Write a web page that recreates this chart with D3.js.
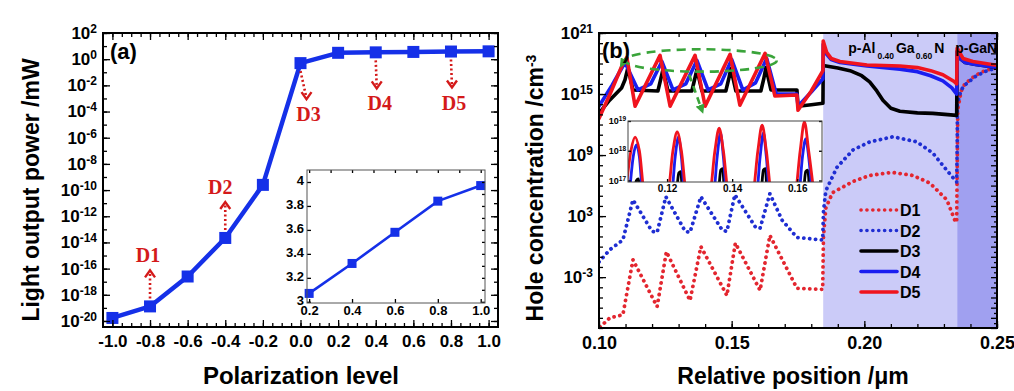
<!DOCTYPE html>
<html>
<head>
<meta charset="utf-8">
<script src="https://cdn.jsdelivr.net/npm/d3@7"></script>
<style>
    body { margin: 0; background: #fff; }
    text { font-family: "Liberation Sans", Arial, sans-serif; font-weight: bold; }
</style>
</head>
<body>
<div id="chart"></div>
<script>

// ---------- data: panel (a), light output power vs polarization level ----------
const polarLevels = [-1.0, -0.8, -0.6, -0.4, -0.2, 0.0, 0.2, 0.4, 0.6, 0.8, 1.0];
const lightPower  = [1.7e-20, 1.3e-19, 2.5e-17, 2.2e-14, 2.5e-10, 0.5, 3.07, 3.32, 3.58, 3.84, 3.97];
const polarTicks  = [-1.0, -0.8, -0.6, -0.4, -0.2, 0.0, 0.2, 0.4, 0.6, 0.8, 1.0];

// inset of (a): linear zoom on the top end
const insetLevels = [0.2, 0.4, 0.6, 0.8, 1.0];
const insetPower  = [3.07, 3.32, 3.58, 3.84, 3.97];
const insetPowerTicks = [3.0, 3.2, 3.4, 3.6, 3.8, 4.0];

// devices marked on (a)
const deviceTags   = ["D1", "D2", "D3", "D4", "D5"];
const deviceLevels = [-0.8, -0.4, 0.0, 0.4, 0.8];

// ---------- data: panel (b), hole concentration (x in um, log10 of cm^-3) ----------
const holeD1 = [
    [0.1004, -7.9], [0.1041, -7.0], [0.1090, -6.7], [0.1128, -1.3], [0.1219, -5.9], [0.1254, -0.5],
    [0.1343, -5.3], [0.1384, 0.0], [0.1482, -4.8], [0.1514, 0.35], [0.1607, -4.3], [0.1644, 1.1],
    [0.1746, -4.1], [0.1843, -4.2], [0.1846, 1.0], [0.1855, 3.8], [0.1880, 5.3], [0.1957, 6.4],
    [0.2021, 7.0], [0.2104, 7.3], [0.2183, 7.0], [0.2247, 6.25], [0.2311, 4.6], [0.2341, 2.6],
    [0.2348, 2.4], [0.2350, 8.0], [0.2352, 13.5], [0.2365, 15.3], [0.2379, 16.0], [0.2417, 16.8],
    [0.2454, 17.3], [0.2500, 17.6]
];
const holeD2 = [
    [0.1000, -1.5], [0.1041, -0.3], [0.1090, 0.65], [0.1128, 4.6], [0.1200, 1.5], [0.1219, 1.4],
    [0.1252, 4.9], [0.1325, 1.5], [0.1343, 1.4], [0.1384, 4.9], [0.1465, 1.6], [0.1482, 1.5],
    [0.1512, 5.1], [0.1590, 1.9], [0.1607, 1.8], [0.1644, 5.2], [0.1690, 2.6], [0.1746, 0.9],
    [0.1843, 0.65], [0.1846, 3.5], [0.1855, 5.5], [0.1897, 7.8], [0.1957, 9.5], [0.2021, 10.3],
    [0.2108, 10.8], [0.2198, 10.3], [0.2258, 9.2], [0.2311, 7.5], [0.2348, 6.35], [0.2350, 10.0],
    [0.2351, 14.1], [0.2365, 15.4], [0.2379, 15.9], [0.2417, 16.7], [0.2454, 17.2], [0.2500, 17.6]
];
const holeD3 = [
    [0.1000, 13.1], [0.1040, 14.4], [0.1085, 15.6], [0.1098, 16.4], [0.1109, 17.6], [0.1128, 15.4],
    [0.1222, 15.3], [0.1233, 16.5], [0.1241, 17.4], [0.1260, 15.3], [0.1350, 15.3], [0.1361, 16.5],
    [0.1369, 17.4], [0.1388, 15.3], [0.1478, 15.3], [0.1489, 16.5], [0.1497, 17.5], [0.1516, 15.3],
    [0.1610, 15.3], [0.1621, 16.5], [0.1629, 17.6], [0.1648, 15.4], [0.1746, 15.4], [0.1750, 13.8],
    [0.1800, 13.95], [0.1844, 14.1], [0.1845, 17.8], [0.1900, 17.55], [0.1946, 17.3], [0.1990, 16.8],
    [0.2020, 16.2], [0.2047, 15.3], [0.2070, 14.4], [0.2100, 13.6], [0.2134, 13.3], [0.2200, 13.15],
    [0.2258, 13.1], [0.2348, 12.9], [0.2350, 19.2], [0.2360, 18.5], [0.2380, 18.1], [0.2420, 17.9],
    [0.2500, 17.6]
];
const holeD4 = [
    [0.1000, 13.8], [0.1050, 15.9], [0.1098, 18.1], [0.1147, 15.4], [0.1195, 16.0], [0.1237, 18.2],
    [0.1279, 15.4], [0.1327, 16.0], [0.1369, 18.3], [0.1411, 15.4], [0.1459, 16.0], [0.1500, 18.4],
    [0.1542, 15.4], [0.1590, 16.1], [0.1632, 18.5], [0.1668, 15.0], [0.1746, 15.0], [0.1750, 13.8],
    [0.1800, 15.2], [0.1844, 16.5], [0.1845, 19.9], [0.1858, 18.9], [0.1875, 18.4], [0.1908, 18.1],
    [0.2010, 17.75], [0.2134, 17.45], [0.2200, 17.2], [0.2250, 16.8], [0.2296, 16.3], [0.2330, 15.6],
    [0.2348, 15.0], [0.2350, 19.1], [0.2360, 18.5], [0.2380, 18.1], [0.2420, 17.9], [0.2500, 17.6]
];
const holeD5 = [
    [0.1000, 12.6], [0.1045, 15.2], [0.1090, 18.0], [0.1105, 18.6], [0.1136, 13.8], [0.1230, 18.8],
    [0.1268, 13.8], [0.1362, 18.8], [0.1400, 13.8], [0.1494, 18.9], [0.1531, 13.9], [0.1626, 19.0],
    [0.1663, 14.8], [0.1746, 14.9], [0.1750, 13.4], [0.1800, 15.3], [0.1844, 17.3], [0.1845, 20.2],
    [0.1858, 19.1], [0.1875, 18.5], [0.1908, 18.2], [0.2010, 17.85], [0.2134, 17.75], [0.2200, 17.6],
    [0.2250, 17.3], [0.2296, 16.9], [0.2340, 16.2], [0.2348, 16.0], [0.2350, 19.5], [0.2372, 18.5],
    [0.2409, 18.2], [0.2492, 17.85], [0.2500, 17.85]
];

// inset of (b): the quantum well peaks
const wellD3 = [
    [0.1098, 16.6], [0.1106, 17.0], [0.1112, 17.05], [0.1118, 16.6],
    [0.1228, 16.6], [0.1236, 17.25], [0.1242, 17.3], [0.1248, 16.6],
    [0.1357, 16.6], [0.1365, 17.35], [0.1371, 17.4], [0.1377, 16.6],
    [0.1488, 16.6], [0.1496, 17.35], [0.1502, 17.4], [0.1508, 16.6],
    [0.1618, 16.6], [0.1626, 17.3], [0.1632, 17.35], [0.1638, 16.6]
];
const wellD4 = [
    [0.1084, 16.5], [0.1096, 17.8], [0.1106, 18.2], [0.1115, 17.8], [0.1126, 16.5],
    [0.1213, 16.5], [0.1225, 17.8], [0.1235, 18.46], [0.1244, 17.8], [0.1255, 16.5],
    [0.1342, 16.5], [0.1354, 17.8], [0.1364, 18.6], [0.1373, 17.8], [0.1384, 16.5],
    [0.1474, 16.5], [0.1486, 17.8], [0.1496, 18.6], [0.1505, 17.8], [0.1516, 16.5],
    [0.1604, 16.5], [0.1616, 17.8], [0.1626, 18.4], [0.1635, 17.8], [0.1646, 16.5]
];
const wellD5 = [
    [0.1072, 16.5], [0.1089, 18.0], [0.1102, 18.46], [0.1115, 18.0], [0.1132, 16.5],
    [0.1201, 16.5], [0.1218, 18.0], [0.1231, 18.63], [0.1244, 18.0], [0.1261, 16.5],
    [0.1330, 16.5], [0.1347, 18.0], [0.1360, 18.76], [0.1373, 18.0], [0.1390, 16.5],
    [0.1462, 16.5], [0.1479, 18.0], [0.1492, 18.86], [0.1505, 18.0], [0.1522, 16.5],
    [0.1592, 16.5], [0.1609, 18.0], [0.1622, 18.97], [0.1635, 18.0], [0.1652, 16.5]
];

// layer edges (um): EBL start, p-GaN start, end
const layerEdges = [0.1845, 0.235, 0.25];
const positionTicks = [0.10, 0.15, 0.20, 0.25];
const wellTicks = [0.12, 0.14, 0.16];

// ---------- setup ----------
const FONT = "'Liberation Sans', Arial, sans-serif";
const BLUE_A = "#1530e8";
const RED = "#f0141e", BLUE = "#1a1ef0", DOT_RED = "#e3262f", DOT_BLUE = "#1f2ed2";
const TAG_RED = "#d41a1a", GREEN = "#3aa43a";

const svg = d3.select("#chart").append("svg")
    .attr("width", 1014)
    .attr("height", 391);

svg.append("rect").attr("width", 1014).attr("height", 391).attr("fill", "#fff");

const defs = svg.append("defs");

// helpers
function tickAxis(g, axis, tx, ty, fontSize) {
    let sel = g.append("g")
        .attr("transform", `translate(${tx},${ty})`)
        .call(axis);
    sel.select(".domain").remove();
    sel.selectAll(".tick line").attr("stroke", "#000").attr("stroke-width", 1.3);
    sel.attr("font-family", FONT).attr("font-size", fontSize).attr("font-weight", "bold");
    sel.selectAll(".tick text").attr("fill", "#000");
    return sel;
}

// turn tick labels into 10^n with a raised exponent
function supLabels(sel, supSize) {
    sel.selectAll(".tick text").each(function (d) {
        let t = d3.select(this);
        t.text(null);
        t.append("tspan").text("10");
        t.append("tspan").attr("dy", "-0.5em").attr("font-size", supSize).text(Math.round(Math.log10(d)));
    });
}

function frame(g, box, color, width) {
    g.append("rect")
        .attr("x", box.left).attr("y", box.top)
        .attr("width", box.right - box.left).attr("height", box.bottom - box.top)
        .attr("fill", "none").attr("stroke", color).attr("stroke-width", width);
}

const noLabel = () => "";

/* * * * * * * * * * * * * *
*        panel (a)          *
* * * * * * * * * * * * * */
const pa = {left: 103, right: 498, top: 33, bottom: 327};
const xA = d3.scaleLinear().domain([-1.05, 1.05]).range([pa.left, pa.right]);
const yA = d3.scaleLog().domain([Math.pow(10, -20.46), 100]).range([pa.bottom, pa.top]);
const gA = svg.append("g");

const decadesA = d3.range(-20, 3).map(e => Math.pow(10, e));
const labelDecadesA = decadesA.filter((d, i) => i % 2 === 0);
const minorPolar = d3.range(-20, 21).map(i => i * 0.05);

// main curve
let pointsA = polarLevels.map((l, i) => ({level: l, power: lightPower[i]}));
let lineA = d3.line().x(d => xA(d.level)).y(d => yA(d.power));

gA.append("path").datum(pointsA)
    .attr("d", lineA)
    .attr("fill", "none")
    .attr("stroke", BLUE_A)
    .attr("stroke-width", 4.5)
    .attr("stroke-linejoin", "round");

gA.selectAll(".sqA").data(pointsA).enter().append("rect")
    .attr("class", "sqA")
    .attr("x", d => xA(d.level) - 6)
    .attr("y", d => yA(d.power) - 6)
    .attr("width", 12).attr("height", 12)
    .attr("fill", BLUE_A);

// D1..D5 arrows (up for negative polarization, down otherwise)
const tagNudge = {D1: -2, D2: -5, D3: 8, D4: 4, D5: 3};
deviceTags.forEach((tag, i) => {
    let lv = deviceLevels[i];
    let px = xA(lv);
    let py = yA(lightPower[polarLevels.indexOf(lv)]);
    let s = lv < 0 ? -1 : 1;
    let tipX = px + (tag === "D3" ? 6 : (s > 0 ? 1 : 0));
    let tipY = py + s * 36;
    gA.append("line")
        .attr("x1", px).attr("y1", py + s * 8)
        .attr("x2", tipX).attr("y2", tipY - s * 1)
        .attr("stroke", TAG_RED).attr("stroke-width", 2.6)
        .attr("stroke-dasharray", "2,2.5");
    gA.append("path")
        .attr("d", `M${tipX - 5},${tipY - s * 7} L${tipX},${tipY} L${tipX + 5},${tipY - s * 7}`)
        .attr("fill", "none").attr("stroke", TAG_RED).attr("stroke-width", 2.4);
    gA.append("text")
        .attr("x", px + tagNudge[tag])
        .attr("y", py + s * 51 + 7)
        .attr("text-anchor", "middle")
        .style("font-family", "'Liberation Serif', 'Times New Roman', serif")
        .style("font-size", "20px")
        .attr("fill", TAG_RED)
        .text(tag);
});

// axes of (a)
tickAxis(gA, d3.axisBottom(xA).tickValues(polarTicks).tickSize(-7).tickPadding(8).tickFormat(d => d.toFixed(1)), 0, pa.bottom, 17);
tickAxis(gA, d3.axisBottom(xA).tickValues(minorPolar).tickSize(-4).tickFormat(noLabel), 0, pa.bottom, 17);
tickAxis(gA, d3.axisTop(xA).tickValues(polarTicks).tickSize(-7).tickFormat(noLabel), 0, pa.top, 17);
tickAxis(gA, d3.axisTop(xA).tickValues(minorPolar).tickSize(-4).tickFormat(noLabel), 0, pa.top, 17);
let yAxisA = tickAxis(gA, d3.axisLeft(yA).tickValues(labelDecadesA).tickSize(-7).tickPadding(6), pa.left, 0, 17);
supLabels(yAxisA, 12);
tickAxis(gA, d3.axisLeft(yA).tickValues(decadesA).tickSize(-4).tickFormat(noLabel), pa.left, 0, 17);
tickAxis(gA, d3.axisRight(yA).tickValues(labelDecadesA).tickSize(-7).tickFormat(noLabel), pa.right, 0, 17);
tickAxis(gA, d3.axisRight(yA).tickValues(decadesA).tickSize(-4).tickFormat(noLabel), pa.right, 0, 17);

// inset of (a)
const ia = {left: 307, right: 485, top: 170, bottom: 303};
const xIA = d3.scaleLinear().domain([0.19, 1.02]).range([ia.left, ia.right]);
const yIA = d3.scaleLinear().domain([2.99, 4.1]).range([ia.bottom, ia.top]);

gA.append("rect")
    .attr("x", ia.left).attr("y", ia.top)
    .attr("width", ia.right - ia.left).attr("height", ia.bottom - ia.top)
    .attr("fill", "#fff");

let insetPts = insetLevels.map((l, i) => ({level: l, power: insetPower[i]}));
gA.append("path").datum(insetPts)
    .attr("d", d3.line().x(d => xIA(d.level)).y(d => yIA(d.power)))
    .attr("fill", "none").attr("stroke", BLUE_A).attr("stroke-width", 2.6);
gA.selectAll(".sqIA").data(insetPts).enter().append("rect")
    .attr("class", "sqIA")
    .attr("x", d => xIA(d.level) - 4.5)
    .attr("y", d => yIA(d.power) - 4.5)
    .attr("width", 9).attr("height", 9)
    .attr("fill", BLUE_A);

const minorInsetX = d3.range(2, 11).map(i => i * 0.1);
const minorInsetY = d3.range(30, 41).map(i => i * 0.1);
tickAxis(gA, d3.axisBottom(xIA).tickValues(insetLevels).tickSize(-4).tickPadding(3).tickFormat(d => d.toFixed(1)), 0, ia.bottom, 13);
tickAxis(gA, d3.axisTop(xIA).tickValues(minorInsetX).tickSize(-3).tickFormat(noLabel), 0, ia.top, 13);
let yAxisIA = tickAxis(gA, d3.axisLeft(yIA).tickValues(insetPowerTicks).tickSize(-4).tickPadding(3)
    .tickFormat(d => (d === 3 || d === 4) ? String(d) : d.toFixed(1)), ia.left, 0, 13);
yAxisIA.selectAll(".tick text").attr("dy", "0.2em");
tickAxis(gA, d3.axisRight(yIA).tickValues(minorInsetY).tickSize(-3).tickFormat(noLabel), ia.right, 0, 13);
frame(gA, ia, "#555", 1);

frame(gA, pa, "#000", 2);

gA.append("text").attr("x", 110).attr("y", 59).style("font-size", "22px").text("(a)");

gA.append("text")
    .attr("transform", "translate(39,190) rotate(-90)")
    .attr("text-anchor", "middle")
    .style("font-size", "23px")
    .text("Light output power /mW");

gA.append("text")
    .attr("x", 301).attr("y", 384)
    .attr("text-anchor", "middle")
    .style("font-size", "24px")
    .text("Polarization level");

/* * * * * * * * * * * * * *
*        panel (b)          *
* * * * * * * * * * * * * */
const pb = {left: 599, right: 997, top: 33, bottom: 328};
const xB = d3.scaleLinear().domain([0.10, 0.25]).range([pb.left, pb.right]);
const yB = d3.scaleLog().domain([1e-8, 1e21]).range([pb.bottom, pb.top]);
const gB = svg.append("g");

defs.append("clipPath").attr("id", "clipB").append("rect")
    .attr("x", pb.left).attr("y", pb.top)
    .attr("width", pb.right - pb.left).attr("height", pb.bottom - pb.top);

// layers: p-AlGaN EBL and p-GaN
const layerFill = ["#cbcbf8", "#a0a0f0"];
gB.selectAll(".layer").data([0, 1]).enter().append("rect")
    .attr("class", "layer")
    .attr("x", i => xB(layerEdges[i]))
    .attr("y", pb.top)
    .attr("width", i => xB(layerEdges[i + 1]) - xB(layerEdges[i]))
    .attr("height", pb.bottom - pb.top)
    .attr("fill", i => layerFill[i]);

const holeSeries = [
    {name: "D1", values: holeD1, color: DOT_RED, dotted: true},
    {name: "D2", values: holeD2, color: DOT_BLUE, dotted: true},
    {name: "D3", values: holeD3, color: "#000", dotted: false},
    {name: "D4", values: holeD4, color: BLUE, dotted: false},
    {name: "D5", values: holeD5, color: RED, dotted: false}
];

let lineB = d3.line().x(d => xB(d[0])).y(d => yB(Math.pow(10, d[1])));
let curves = gB.append("g").attr("clip-path", "url(#clipB)");

holeSeries.forEach(s => {
    curves.append("path").datum(s.values)
        .attr("d", lineB)
        .attr("fill", "none")
        .attr("stroke", s.color)
        .attr("stroke-width", s.dotted ? 3.8 : 3.6)
        .attr("stroke-linejoin", "round")
        .attr("stroke-linecap", "round")
        .attr("stroke-dasharray", s.dotted ? "0.1,5.8" : null);
});

// inset of (b)
const ib = {left: 628, right: 822, top: 121, bottom: 182};
const xIB = d3.scaleLinear().domain([0.108, 0.1676]).range([ib.left, ib.right]);
const yIB = d3.scaleLog().domain([Math.pow(10, 16.95), 1e19]).range([ib.bottom, ib.top]);

defs.append("clipPath").attr("id", "clipIB").append("rect")
    .attr("x", ib.left).attr("y", ib.top)
    .attr("width", ib.right - ib.left).attr("height", ib.bottom - ib.top);

gB.append("rect")
    .attr("x", ib.left).attr("y", ib.top)
    .attr("width", ib.right - ib.left).attr("height", ib.bottom - ib.top)
    .attr("fill", "#fff");

let lineIB = d3.line().x(d => xIB(d[0])).y(d => yIB(Math.pow(10, d[1]))).curve(d3.curveMonotoneX);
let wells = gB.append("g").attr("clip-path", "url(#clipIB)");
[[wellD3, "#000"], [wellD4, BLUE], [wellD5, RED]].forEach(w => {
    wells.append("path").datum(w[0])
        .attr("d", lineIB)
        .attr("fill", "none")
        .attr("stroke", w[1])
        .attr("stroke-width", 2.8);
});

tickAxis(gB, d3.axisBottom(xIB).tickValues(wellTicks).tickSize(-3).tickPadding(3).tickFormat(d => d.toFixed(2)), 0, ib.bottom, 10);
tickAxis(gB, d3.axisRight(yIB).tickValues([1e17, 1e18, 1e19]).tickSize(-3).tickFormat(noLabel), ib.right, 0, 10);
let yAxisIB = tickAxis(gB, d3.axisLeft(yIB).tickValues([1e17, 1e18, 1e19]).tickSize(-3).tickPadding(2), ib.left, 0, 9);
supLabels(yAxisIB, 6.5);
frame(gB, ib, "#444", 1);

// green dashed focus ellipse and arrows
let ex0 = xB(0.1098), ex1 = xB(0.1670), ey0 = yB(Math.pow(10, 19.4)), ey1 = yB(Math.pow(10, 17.2));
gB.append("ellipse")
    .attr("cx", (ex0 + ex1) / 2).attr("cy", (ey0 + ey1) / 2)
    .attr("rx", (ex1 - ex0) / 2).attr("ry", (ey1 - ey0) / 2)
    .attr("fill", "none").attr("stroke", GREEN).attr("stroke-width", 2.6)
    .attr("stroke-dasharray", "9,6");

defs.append("marker")
    .attr("id", "gHead")
    .attr("viewBox", "0 0 10 10")
    .attr("refX", 6).attr("refY", 5)
    .attr("markerWidth", 3.6).attr("markerHeight", 3.6)
    .attr("orient", "auto")
    .append("path").attr("d", "M0,0 L10,5 L0,10 z").attr("fill", GREEN);

gB.append("line")
    .attr("x1", xB(0.1340)).attr("y1", yB(Math.pow(10, 16.9)))
    .attr("x2", xB(0.1388)).attr("y2", yB(Math.pow(10, 13.4)))
    .attr("stroke", GREEN).attr("stroke-width", 2.6)
    .attr("stroke-dasharray", "7,5")
    .attr("marker-end", "url(#gHead)");
gB.append("line")
    .attr("x1", xB(0.1100)).attr("y1", yB(Math.pow(10, 18.5)))
    .attr("x2", xB(0.1086)).attr("y2", yB(Math.pow(10, 17.9)))
    .attr("stroke", GREEN).attr("stroke-width", 2.6)
    .attr("marker-end", "url(#gHead)");

// axes of (b)
const minorPos = d3.range(10, 26).map(i => i * 0.01);
const decadesB = d3.range(-8, 22).map(e => Math.pow(10, e));
const labelDecadesB = [-3, 3, 9, 15, 21].map(e => Math.pow(10, e));
const halfDecadesB = d3.range(-8, 21).map(e => 3 * Math.pow(10, e));

tickAxis(gB, d3.axisBottom(xB).tickValues(positionTicks).tickSize(-7).tickPadding(8).tickFormat(d => d.toFixed(2)), 0, pb.bottom, 18);
tickAxis(gB, d3.axisBottom(xB).tickValues(minorPos).tickSize(-4).tickFormat(noLabel), 0, pb.bottom, 18);
tickAxis(gB, d3.axisTop(xB).tickValues(positionTicks).tickSize(-7).tickFormat(noLabel), 0, pb.top, 18);
tickAxis(gB, d3.axisTop(xB).tickValues(minorPos).tickSize(-4).tickFormat(noLabel), 0, pb.top, 18);
let yAxisB = tickAxis(gB, d3.axisLeft(yB).tickValues(labelDecadesB).tickSize(-7).tickPadding(6), pb.left, 0, 17);
supLabels(yAxisB, 12);
tickAxis(gB, d3.axisLeft(yB).tickValues(decadesB).tickSize(-4).tickFormat(noLabel), pb.left, 0, 17);
tickAxis(gB, d3.axisRight(yB).tickValues(decadesB).tickSize(-6).tickFormat(noLabel), pb.right, 0, 17);
tickAxis(gB, d3.axisRight(yB).tickValues(halfDecadesB).tickSize(-3).tickFormat(noLabel), pb.right, 0, 17);

frame(gB, pb, "#000", 2);

// layer names
let ebl = gB.append("text")
    .attr("x", xB(layerEdges[0]) + 25).attr("y", 53)
    .style("font-size", "14px");
ebl.append("tspan").text("p-Al");
ebl.append("tspan").attr("dx", 2).attr("dy", 6).style("font-size", "8.5px").text("0.40");
ebl.append("tspan").attr("dx", 2).attr("dy", -6).text("Ga");
ebl.append("tspan").attr("dx", 1).attr("dy", 6).style("font-size", "8.5px").text("0.60");
ebl.append("tspan").attr("dx", 2).attr("dy", -6).text("N");

gB.append("text")
    .attr("x", xB(layerEdges[1]) - 2).attr("y", 53)
    .style("font-size", "14px")
    .text("p-GaN");

// legend
holeSeries.forEach((s, i) => {
    let ly = 210 + i * 20.5;
    gB.append("line")
        .attr("x1", 861).attr("x2", 897)
        .attr("y1", ly).attr("y2", ly)
        .attr("stroke", s.color)
        .attr("stroke-width", 3.6)
        .attr("stroke-linecap", "round")
        .attr("stroke-dasharray", s.dotted ? "0.1,5.8" : null);
    gB.append("text")
        .attr("x", 900).attr("y", ly + 6)
        .style("font-size", "16px")
        .text(s.name);
});

gB.append("text").attr("x", 602).attr("y", 58).style("font-size", "22px").text("(b)");

let yTitleB = gB.append("text")
    .attr("transform", "translate(543,188) rotate(-90)")
    .attr("text-anchor", "middle")
    .style("font-size", "23px");
yTitleB.append("tspan").text("Hole concentration /cm");
yTitleB.append("tspan").attr("dy", "-0.5em").style("font-size", "14px").text("-3");

gB.append("text")
    .attr("x", 793).attr("y", 384)
    .attr("text-anchor", "middle")
    .style("font-size", "23px")
    .text("Relative position /μm");

</script>
</body>
</html>
